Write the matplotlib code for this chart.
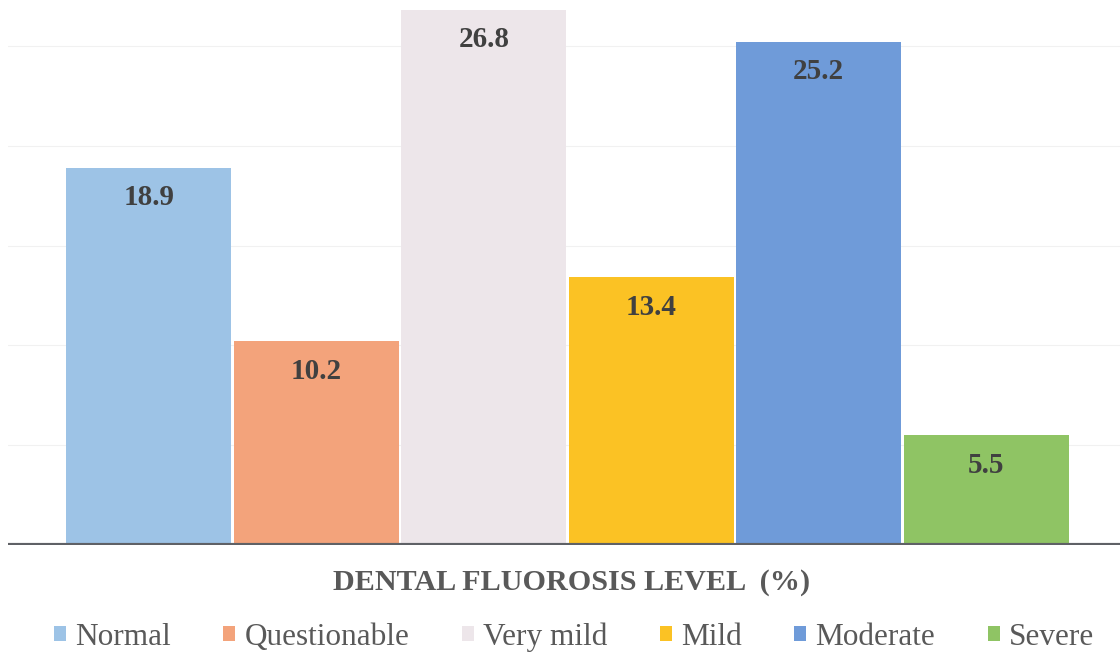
import matplotlib.pyplot as plt
from matplotlib.patches import Patch

# fluorosis levels and their share of the sample
levels = ['Normal', 'Questionable', 'Very mild', 'Mild', 'Moderate', 'Severe']
percent = [18.9, 10.2, 26.8, 13.4, 25.2, 5.5]
colors = ['#9DC3E6', '#F3A37B', '#EDE6EA', '#FBC224', '#6F9BD9', '#8FC464']

plt.rcParams['font.family'] = ['Liberation Serif', 'DejaVu Serif']

fig = plt.figure(figsize=(11.2, 6.62), dpi=100)
ax = fig.add_axes([8 / 1120, 117 / 662, 1112 / 1120, 545 / 662])

x = list(range(len(levels)))
ax.bar(x, percent, width=0.985, color=colors, zorder=2)

# faint horizontal gridlines
for g in [5, 10, 15, 20, 25]:
    ax.axhline(g, color='#f1f1f1', linewidth=0.8, zorder=1)

# value labels just inside the top of each bar
for xi, v in zip(x, percent):
    ax.annotate(f'{v}', (xi, v), xytext=(0, -30), textcoords='offset pixels',
                ha='center', va='center', fontsize=21, fontweight='bold',
                color='#404040', zorder=3)

ax.set_xlim(-0.5 - 57 / 167.5, 5.5 + 50 / 167.5)
ax.set_ylim(0, 27.3)
ax.axhline(0, color='#5f6166', linewidth=3, zorder=4)

for s in ax.spines.values():
    s.set_visible(False)
ax.set_xticks([])
ax.set_yticks([])

fig.text(0.51, 1 - 583 / 662, 'DENTAL FLUOROSIS LEVEL  (%)', ha='center', va='center',
         fontsize=21.7, fontweight='bold', color='#595959')

handles = [Patch(facecolor=c, label=l) for c, l in zip(colors, levels)]
fig.legend(handles=handles, loc='center', bbox_to_anchor=(574 / 1120, 1 - 637 / 662), ncol=6,
           frameon=False, fontsize=22.5, handlelength=0.38, handleheight=0.38,
           handletextpad=0.3, columnspacing=1.68, labelcolor='#595959')

fig.savefig('out.png', dpi=100)
